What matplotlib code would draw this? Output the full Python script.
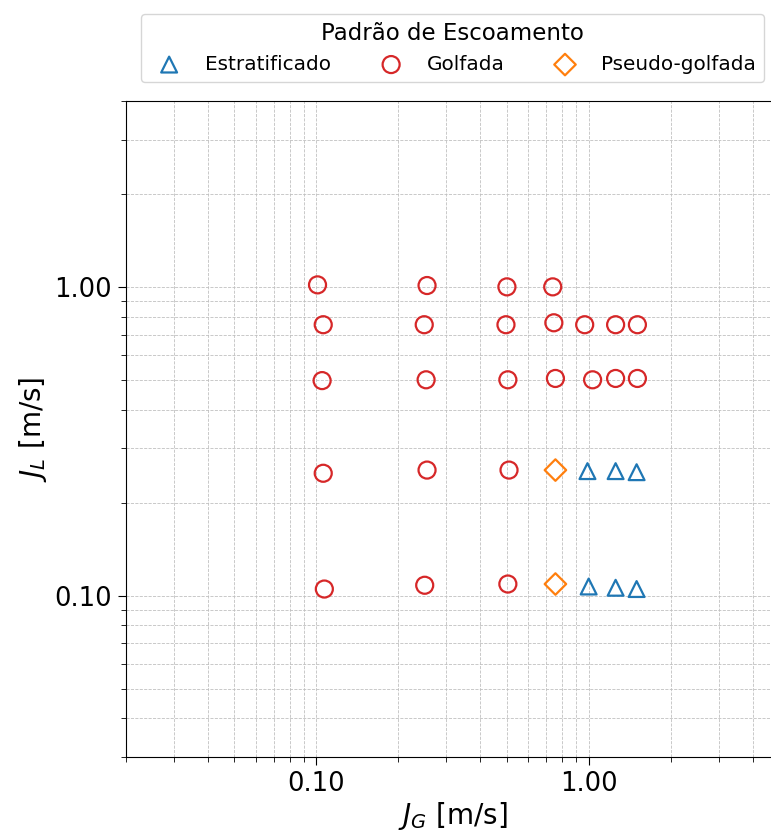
import matplotlib
matplotlib.use("Agg")
import matplotlib.pyplot as plt
from matplotlib.ticker import FormatStrFormatter, LogLocator, NullFormatter

jg_estrat = [0.99, 1.256, 1.50, 1.00, 1.256, 1.50]
jl_estrat = [0.253, 0.253, 0.251, 0.107, 0.106, 0.105]

jg_golf = [0.101, 0.255, 0.501, 0.738,
           0.106, 0.249, 0.497, 0.745, 0.967, 1.256, 1.51,
           0.105, 0.253, 0.505, 0.755, 1.034, 1.256, 1.51,
           0.106, 0.255, 0.51,
           0.107, 0.25, 0.505]
jl_golf = [1.015, 1.01, 1.0, 1.0,
           0.754, 0.754, 0.754, 0.765, 0.754, 0.754, 0.754,
           0.497, 0.5, 0.5, 0.505, 0.5, 0.505, 0.505,
           0.249, 0.255, 0.255,
           0.105, 0.108, 0.109]

jg_pseudo = [0.755, 0.755]
jl_pseudo = [0.255, 0.109]

fig = plt.figure(figsize=(7.71, 8.34), dpi=100)
ax = fig.add_axes([126/771, 77/834, 653/771, 656/834])

ax.scatter(jg_estrat, jl_estrat, marker="^", s=130, facecolors="none",
           edgecolors="#1f77b4", linewidths=1.6, label="Estratificado", zorder=3)
ax.scatter(jg_golf, jl_golf, marker="o", s=150, facecolors="none",
           edgecolors="#d62728", linewidths=1.6, label="Golfada", zorder=3)
ax.scatter(jg_pseudo, jl_pseudo, marker="D", s=120, facecolors="none",
           edgecolors="#ff7f0e", linewidths=1.6, label="Pseudo-golfada", zorder=3)

ax.set_xscale("log")
ax.set_yscale("log")
ax.set_xlim(0.02, 5)
ax.set_ylim(0.03, 4)

for axis in (ax.xaxis, ax.yaxis):
    axis.set_major_locator(LogLocator(base=10))
    axis.set_minor_locator(LogLocator(base=10, subs=range(2, 10)))
    axis.set_major_formatter(FormatStrFormatter("%.2f"))
    axis.set_minor_formatter(NullFormatter())

ax.tick_params(axis="both", which="major", labelsize=18.5, length=6, pad=4)
ax.tick_params(axis="both", which="minor", length=3.5)
ax.grid(True, which="both", linestyle="--", linewidth=0.6, color="#c0c0c0")

ax.set_xlabel(r"$J_G$ [m/s]", fontsize=20, labelpad=2)
ax.set_ylabel(r"$J_L$ [m/s]", fontsize=20, labelpad=4)

ax.legend(title="Padrão de Escoamento", ncol=3, loc="lower center",
          bbox_to_anchor=(0.5, 1.014), fontsize=14.4, title_fontsize=16.5)

fig.savefig("out.png", dpi=100)
